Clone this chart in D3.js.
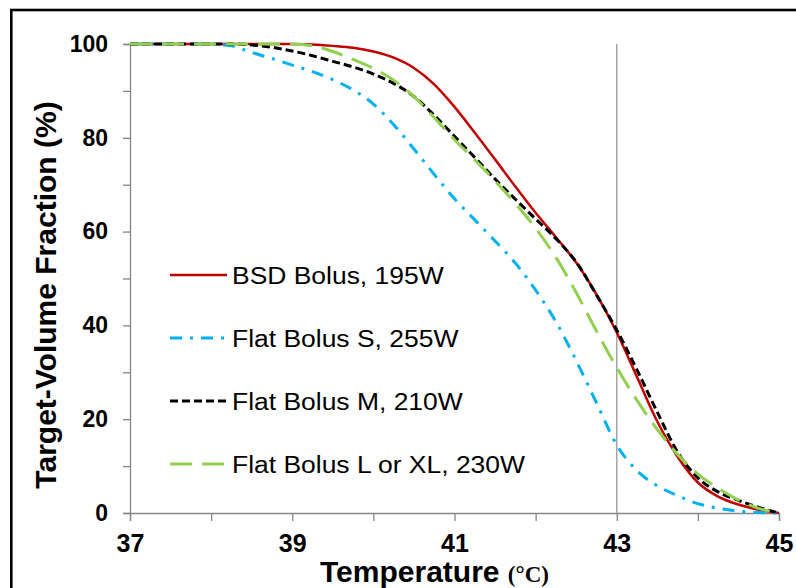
<!DOCTYPE html>
<html>
<head>
<meta charset="utf-8">
<script src="https://cdn.jsdelivr.net/npm/d3@7"></script>
<style>
  body { margin: 0; background: #fff; }
  text { font-family: Arial, "Liberation Sans", sans-serif; }
</style>
</head>
<body>
<div id="chart"></div>
<script>
// temperature grid (°C)
const temps = [37, 37.25, 37.5, 37.75, 38, 38.25, 38.5, 38.75, 39, 39.25, 39.5, 39.75,
               40, 40.25, 40.5, 40.75, 41, 41.25, 41.5, 41.75, 42, 42.25, 42.5, 42.75,
               43, 43.25, 43.5, 43.75, 44, 44.25, 44.5, 44.75, 45];

// target-volume fraction (%) per bolus
const bsdBolus = [100, 100, 100, 100, 100, 100, 100, 100, 100, 99.9, 99.6, 99.2,
                  98.4, 97.1, 94.9, 91.4, 86.6, 81.1, 75.4, 69.6, 64, 58.8, 53.4, 46.6,
                  38.5, 29, 19.5, 12, 6.5, 3.5, 1.8, 0.7, 0];
const flatS = [100, 100, 100, 100, 100, 99.6, 98.2, 96.9, 95.5, 94.1, 92.4, 90.2,
               87.2, 82.8, 77.6, 72.2, 67, 62.5, 58, 53.3, 47.5, 40.8, 32.5, 23.5,
               14.5, 9, 5.8, 3.7, 2, 1, 0.4, 0.1, 0];
const flatM = [100, 100, 100, 100, 100, 100, 99.8, 99.3, 98.5, 97.5, 96.3, 95.1,
               93.6, 91.6, 88.8, 84.8, 80.3, 75.8, 71.2, 66.9, 62.7, 58.5, 53.5, 46.5,
               39, 30.5, 21.5, 13, 7.5, 4.5, 2.7, 1.2, 0];
const flatL = [100, 100, 100, 100, 100, 100, 100, 100, 100, 99.6, 98.4, 96.7,
               94.8, 92.3, 88.8, 84.3, 79.6, 75.3, 70.8, 66, 60.7, 54.5, 47, 38.8,
               31, 24, 17.8, 12.5, 8.3, 5.3, 2.8, 1, 0];

const seriesNames = ["BSD Bolus, 195W", "Flat Bolus S, 255W", "Flat Bolus M, 210W", "Flat Bolus L or XL, 230W"];
const xTicks = [37, 38, 39, 40, 41, 42, 43, 44, 45];
const yTicks = [0, 10, 20, 30, 40, 50, 60, 70, 80, 90, 100];
const refTemp = 43;

const series = [
    { name: seriesNames[0], values: bsdBolus, color: "#C00000", dash: null, width: 2.5 },
    { name: seriesNames[1], values: flatS, color: "#00B0F0", dash: "12,8,3,8", width: 3 },
    { name: seriesNames[2], values: flatM, color: "#000000", dash: "8,4", width: 3 },
    { name: seriesNames[3], values: flatL, color: "#92D050", dash: "22,10", width: 3 }
];

const width = 796,
      height = 588;
const margin = { left: 130, right: 17, top: 44, bottom: 75 };

const svg = d3.select("#chart")
              .append("svg")
              .attr("width", width)
              .attr("height", height);

// outer frame
svg.append("rect")
   .attr("x", 11.3).attr("y", 10)
   .attr("width", 820).attr("height", 620)
   .attr("fill", "none")
   .attr("stroke", "#000")
   .attr("stroke-width", 2.6);

const x = d3.scaleLinear().domain([37, 45]).range([margin.left, width - margin.right]);
const y = d3.scaleLinear().domain([0, 100]).range([height - margin.bottom, margin.top]);

// reference line at 43 °C
svg.append("line")
   .attr("x1", x(refTemp)).attr("x2", x(refTemp))
   .attr("y1", y(100)).attr("y2", y(0))
   .attr("stroke", "#A6A6A6")
   .attr("stroke-width", 1.5);

// Axes
const yAxis = svg.append("g")
   .attr("transform", `translate(${margin.left},0)`)
   .call(d3.axisLeft(y).tickValues(yTicks).tickSize(7).tickPadding(15)
           .tickFormat(d => d % 20 === 0 ? d : ""));

const xAxis = svg.append("g")
   .attr("transform", `translate(0,${y(0)})`)
   .call(d3.axisBottom(x).tickValues(xTicks).tickSize(8).tickPadding(13)
           .tickFormat(d => d % 2 === 1 ? d : ""));

[yAxis, xAxis].forEach(a => {
    a.select(".domain").attr("stroke", "#868686").attr("stroke-width", 1.3);
    a.selectAll(".tick line").attr("stroke", "#868686").attr("stroke-width", 1.3);
    a.selectAll("text")
     .attr("fill", "#000")
     .style("font-family", "Arial, 'Liberation Sans', sans-serif")
     .style("font-weight", "bold");
});
yAxis.selectAll("text").style("font-size", "23px");
xAxis.selectAll("text").style("font-size", "25px");

// Curves
const line = d3.line()
               .x((d, i) => x(temps[i]))
               .y(d => y(d))
               .curve(d3.curveMonotoneX);

svg.append("g")
   .selectAll("path")
   .data(series)
   .join("path")
   .attr("d", d => line(d.values))
   .attr("fill", "none")
   .attr("stroke", d => d.color)
   .attr("stroke-width", d => d.width)
   .attr("stroke-dasharray", d => d.dash);

// Legend
const legend = svg.append("g")
   .selectAll("g")
   .data(series)
   .join("g")
   .attr("transform", (d, i) => `translate(170,${275 + i * 63})`);

legend.append("line")
      .attr("x1", 0).attr("x2", 57)
      .attr("stroke", d => d.color)
      .attr("stroke-width", d => d.width)
      .attr("stroke-dasharray", d => d.dash);

legend.append("text")
      .attr("transform", "translate(62,9) scale(1.08,1)")
      .style("font-size", "24.5px")
      .attr("fill", "#000")
      .text(d => d.name);

// Axis titles
svg.append("text")
   .attr("transform", "translate(56,295) rotate(-90)")
   .attr("text-anchor", "middle")
   .style("font-size", "30px")
   .style("font-weight", "bold")
   .text("Target-Volume Fraction (%)");

const xt = svg.append("text")
   .attr("x", 320).attr("y", 582)
   .style("font-weight", "bold");
xt.append("tspan").style("font-size", "30px").text("Temperature ");
xt.append("tspan")
  .style("font-family", "'Times New Roman', 'Liberation Serif', serif")
  .style("font-size", "23px")
  .text("(°C)");
</script>
</body>
</html>
